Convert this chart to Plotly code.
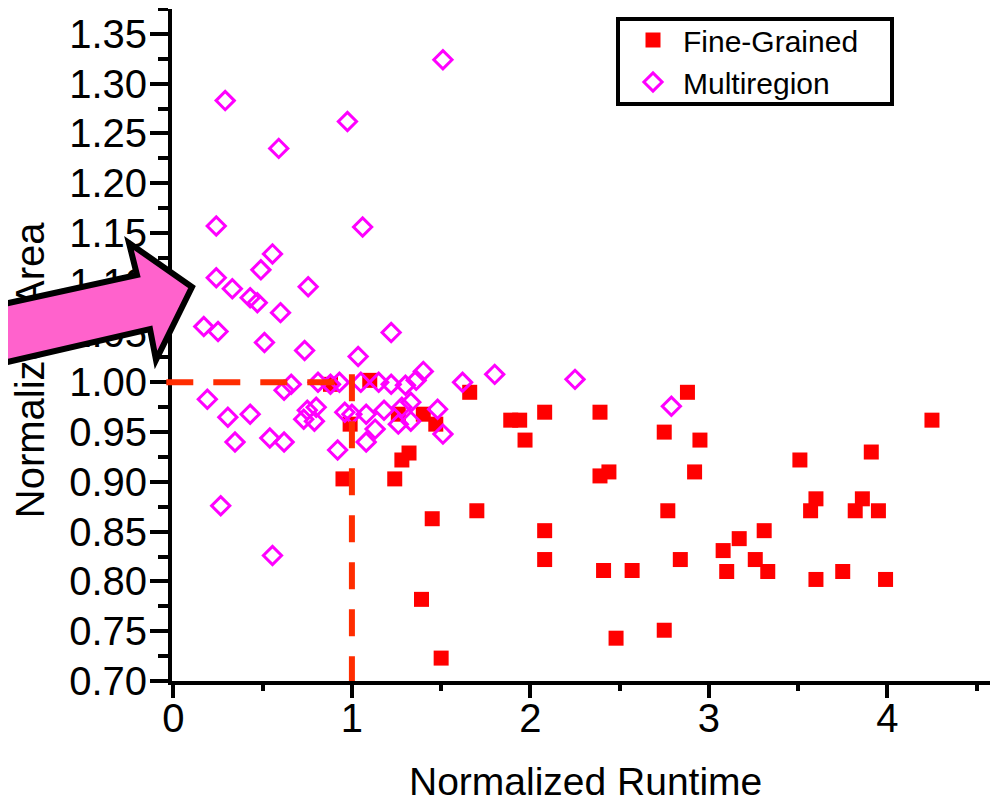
import plotly.graph_objects as go

# ---------------- data ----------------
fine_x = [0.95, 1.24, 1.32, 1.28, 0.88, 1.10, 0.99, 1.26, 1.40, 1.47,
          1.66, 2.08, 2.39, 1.89, 1.94, 1.97, 2.75, 2.39, 2.44, 1.45,
          1.70, 2.08, 2.77, 2.08, 2.41, 2.57, 1.39, 2.48, 2.75, 1.50,
          2.84, 2.88, 2.95, 4.25, 3.91, 3.51, 2.92, 3.60, 3.57, 3.86,
          3.82, 3.95, 3.31, 3.17, 3.08, 3.26, 3.10, 3.33, 3.60, 3.75,
          3.99]
fine_y = [0.903, 0.903, 0.929, 0.922, 0.998, 1.002, 0.958, 0.968, 0.968, 0.958,
          0.990, 0.970, 0.970, 0.962, 0.962, 0.942, 0.950, 0.906, 0.910, 0.863,
          0.871, 0.851, 0.871, 0.822, 0.811, 0.811, 0.782, 0.743, 0.751, 0.723,
          0.822, 0.990, 0.942, 0.962, 0.930, 0.922, 0.910, 0.883, 0.871, 0.883,
          0.871, 0.871, 0.851, 0.843, 0.831, 0.822, 0.810, 0.810, 0.802, 0.810,
          0.802]

multi_x = [1.51, 0.29, 0.975, 0.59, 0.24, 1.06, 0.555, 0.49, 0.24, 0.33,
           0.755, 0.43, 0.47, 0.60, 0.17, 0.25, 1.22, 0.51, 0.735, 1.035,
           1.40, 1.80, 1.62, 2.25, 2.79, 0.19, 0.305, 0.43, 0.345, 0.54,
           0.62, 0.92, 0.265, 0.555, 0.62, 0.66, 0.75, 0.80, 0.73, 0.79,
           0.81, 0.93, 0.96, 1.05, 1.15, 1.22, 1.30, 1.36, 0.88, 1.00,
           1.08, 1.18, 1.28, 1.13, 1.08, 1.51, 1.48, 1.33, 1.33, 1.26]
multi_y = [1.324, 1.283, 1.262, 1.235, 1.157, 1.156, 1.129, 1.113, 1.105, 1.094,
           1.096, 1.085, 1.080, 1.070, 1.056, 1.051, 1.050, 1.040, 1.032, 1.026,
           1.011, 1.008, 1.000, 1.003, 0.976, 0.983, 0.965, 0.968, 0.940, 0.944,
           0.940, 0.932, 0.876, 0.826, 0.992, 0.998, 0.972, 0.975, 0.963, 0.961,
           1.000, 1.000, 0.970, 1.000, 1.000, 0.998, 0.997, 1.002, 0.998, 0.968,
           0.968, 0.972, 0.975, 0.953, 0.940, 0.948, 0.973, 0.961, 0.980, 0.958]

series_names = ["Fine-Grained", "Multiregion"]
x_tick_vals = [0, 1, 2, 3, 4]
x_tick_text = ["0", "1", "2", "3", "4"]
y_tick_vals = [0.70, 0.75, 0.80, 0.85, 0.90, 0.95, 1.00, 1.05, 1.10, 1.15,
               1.20, 1.25, 1.30, 1.35]
y_tick_text = ["0.70", "0.75", "0.80", "0.85", "0.90", "0.95", "1.00", "1.05",
               "1.10", "1.15", "1.20", "1.25", "1.30", "1.35"]
x_title = "Normalized Runtime"
y_title = "Normalized Area"

# reference (baseline) lines
ref_x = 1.0
ref_y = 1.0

# ---------------- layout constants ----------------
OFF = 8                      # page body margin in the browser
W, H = 998 - OFF, 805 - OFF
ML, MR, MT, MB = 172 - OFF, 0, 9 - OFF, 124
X_RANGE = [-0.008, 4.62]
Y_RANGE = [0.70, 1.375]
FONT = "Liberation Sans, Arial, sans-serif"

PW = W - ML - MR
PH = H - MT - MB


def xpaper(v):
    return (v - X_RANGE[0]) / (X_RANGE[1] - X_RANGE[0])


def ypaper(v):
    return (v - Y_RANGE[0]) / (Y_RANGE[1] - Y_RANGE[0])


def px_to_paper(px, py):
    """screen pixel -> paper coordinates"""
    return (px - OFF - ML) / PW, 1 - (py - OFF - MT) / PH


fig = go.Figure()

fig.add_trace(go.Scatter(
    x=fine_x, y=fine_y, mode="markers", name=series_names[0],
    marker=dict(symbol="square", size=15, color="#FF0000", line=dict(width=0)),
))
fig.add_trace(go.Scatter(
    x=multi_x, y=multi_y, mode="markers", name=series_names[1],
    marker=dict(symbol="diamond-open", size=14, color="#FF00FF",
                line=dict(width=3, color="#FF00FF")),
))
# empty helper trace so the title axis exists
fig.add_trace(go.Scatter(x=[], y=[], yaxis="y2", showlegend=False,
                         hoverinfo="skip"))

shapes = []
# dashed reference lines
dash_col = "#FF2D00"
shapes.append(dict(type="line", xref="paper", yref="paper",
                   x0=xpaper(-0.04), x1=xpaper(ref_x),
                   y0=ypaper(ref_y), y1=ypaper(ref_y),
                   line=dict(color=dash_col, width=6, dash="27px,20px"),
                   layer="above"))
shapes.append(dict(type="line", xref="paper", yref="paper",
                   x0=xpaper(ref_x), x1=xpaper(ref_x),
                   y0=ypaper(ref_y + 0.008), y1=ypaper(Y_RANGE[0]),
                   line=dict(color=dash_col, width=6, dash="27px,20px"),
                   layer="above"))

# legend frame
lx0, ly0 = px_to_paper(618, 19)
lx1, ly1 = px_to_paper(892, 104)
shapes.append(dict(type="rect", xref="paper", yref="paper",
                   x0=lx0, x1=lx1, y0=ly0, y1=ly1,
                   line=dict(color="black", width=4), fillcolor="white",
                   layer="above"))

# big pink arrow overlay (screen-pixel outline converted to paper coords)
arrow_px = [(-10, 307), (137, 275), (129, 243), (192, 287), (156, 360),
            (150, 329), (-10, 366)]
pts = [px_to_paper(a, b) for a, b in arrow_px]
path = "M " + " L ".join(f"{p[0]:.5f},{p[1]:.5f}" for p in pts) + " Z"
shapes.append(dict(type="path", xref="paper", yref="paper", path=path,
                   fillcolor="#FF62CC", line=dict(color="black", width=6),
                   layer="above"))

leg_x, leg_y = px_to_paper(623, 14)

fig.update_layout(
    width=W, height=H,
    margin=dict(l=ML, r=MR, t=MT, b=MB, pad=0),
    paper_bgcolor="white", plot_bgcolor="white",
    font=dict(family=FONT, color="black", size=40),
    showlegend=True,
    legend=dict(x=leg_x, y=leg_y, xanchor="left", yanchor="top",
                bgcolor="rgba(0,0,0,0)", borderwidth=0,
                font=dict(family=FONT, size=30, color="black"),
                itemwidth=50, tracegroupgap=0),
    xaxis=dict(range=X_RANGE, tickmode="array", tickvals=x_tick_vals,
               ticktext=x_tick_text, showgrid=False, zeroline=False,
               showline=True, linecolor="black", linewidth=4,
               ticks="outside", ticklen=13, tickwidth=4, tickcolor="black",
               minor=dict(ticks="outside", dtick=0.5, ticklen=6, tickwidth=4,
                          tickcolor="black", showgrid=False),
               tickfont=dict(size=40, family=FONT, color="black"),
               ticklabelstandoff=-14, fixedrange=True),
    yaxis=dict(range=Y_RANGE, tickmode="array", tickvals=y_tick_vals,
               ticktext=y_tick_text, showgrid=False, zeroline=False,
               showline=True, linecolor="black", linewidth=4,
               ticks="outside", ticklen=18, tickwidth=4, tickcolor="black",
               minor=dict(ticks="outside", dtick=0.025, ticklen=10,
                          tickwidth=4, tickcolor="black", showgrid=False),
               tickfont=dict(size=40, family=FONT, color="black"),
               ticklabelstandoff=-5, fixedrange=True),
    yaxis2=dict(overlaying="y", anchor="free", position=0, side="left",
                range=Y_RANGE, tickmode="array", tickvals=[1.006],
                ticktext=[y_title], tickangle=-90, ticks="",
                showline=False, showgrid=False, zeroline=False,
                tickfont=dict(size=40, family=FONT, color="black"),
                ticklabelstandoff=120, fixedrange=True),
    shapes=shapes,
    annotations=[dict(text=x_title, xref="paper", yref="paper",
                      x=0.5, y=px_to_paper(0, 804)[1], xanchor="center",
                      yanchor="bottom", showarrow=False, borderpad=0,
                      font=dict(size=39, family=FONT, color="black"))],
)

fig.write_html("out.html")
